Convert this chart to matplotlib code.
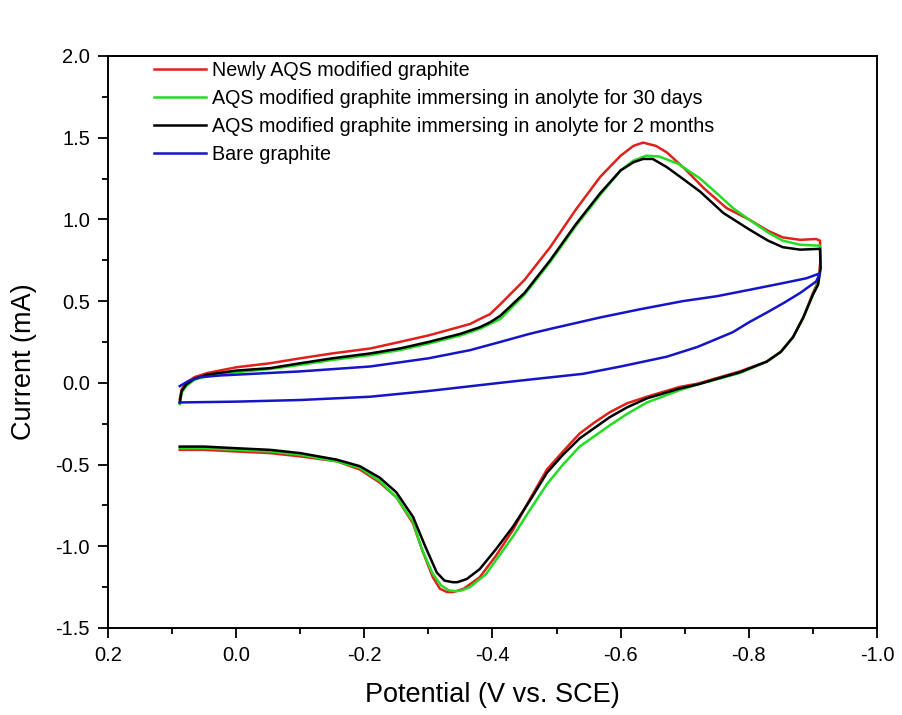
import matplotlib
matplotlib.use("Agg")
import matplotlib.pyplot as plt
from matplotlib.ticker import MultipleLocator

plt.rcParams['font.family'] = ['Liberation Sans', 'DejaVu Sans']

# ---- data (potential V vs SCE, current mA) ----
red_E = [0.088, 0.085, 0.078, 0.065, 0.045, 0.0, -0.053, -0.1, -0.15, -0.209, -0.255, -0.3,
         -0.365, -0.38, -0.396, -0.412, -0.45, -0.49, -0.53, -0.568, -0.60, -0.62, -0.635,
         -0.655, -0.672, -0.70, -0.73, -0.765, -0.80, -0.83, -0.853, -0.88, -0.905, -0.911,
         -0.912, -0.908, -0.900, -0.885, -0.869, -0.85, -0.828, -0.786, -0.72, -0.692,
         -0.641, -0.61, -0.583, -0.56, -0.536, -0.51, -0.485, -0.46, -0.432, -0.405, -0.38, -0.355,
         -0.339, -0.329, -0.318, -0.307, -0.29, -0.276, -0.25, -0.224, -0.193, -0.157, -0.1,
         -0.053, 0.0, 0.05, 0.088]
red_I = [-0.10, -0.04, 0.0, 0.035, 0.06, 0.095, 0.12, 0.15, 0.18, 0.21, 0.25, 0.29,
         0.36, 0.39, 0.42, 0.48, 0.63, 0.83, 1.06, 1.26, 1.39, 1.45, 1.47,
         1.45, 1.41, 1.31, 1.19, 1.07, 1.0, 0.93, 0.89, 0.875, 0.88, 0.87,
         0.75, 0.62, 0.55, 0.40, 0.28, 0.19, 0.13, 0.07, -0.005, -0.025,
         -0.085, -0.125, -0.18, -0.24, -0.31, -0.42, -0.53, -0.70, -0.90, -1.06, -1.19, -1.26,
         -1.28, -1.28, -1.26, -1.19, -1.02, -0.86, -0.70, -0.61, -0.53, -0.48, -0.45,
         -0.43, -0.42, -0.41, -0.41]

green_E = [0.088, 0.085, 0.078, 0.065, 0.045, 0.0, -0.053, -0.1, -0.15, -0.209, -0.255, -0.3,
           -0.35, -0.38, -0.412, -0.45, -0.49, -0.53, -0.568, -0.60, -0.62, -0.64,
           -0.66, -0.69, -0.724, -0.75, -0.775, -0.80, -0.83, -0.853, -0.88, -0.905, -0.911,
           -0.912, -0.908, -0.900, -0.885, -0.869, -0.85, -0.828, -0.786, -0.72, -0.692,
           -0.641, -0.61, -0.583, -0.536, -0.51, -0.485, -0.458, -0.432, -0.41, -0.39,
           -0.365, -0.352, -0.344, -0.332, -0.32, -0.307, -0.29, -0.276, -0.25, -0.224, -0.193,
           -0.157, -0.1, -0.053, 0.0, 0.05, 0.088]
green_I = [-0.13, -0.06, -0.02, 0.02, 0.04, 0.065, 0.085, 0.11, 0.14, 0.17, 0.20, 0.24,
           0.29, 0.33, 0.39, 0.54, 0.74, 0.96, 1.15, 1.30, 1.36, 1.39,
           1.385, 1.34, 1.25, 1.16, 1.07, 1.0, 0.92, 0.87, 0.845, 0.84, 0.84,
           0.72, 0.61, 0.54, 0.40, 0.28, 0.19, 0.13, 0.06, -0.01, -0.045,
           -0.12, -0.19, -0.26, -0.39, -0.50, -0.62, -0.78, -0.94, -1.06, -1.17,
           -1.25, -1.27, -1.275, -1.27, -1.24, -1.17, -1.02, -0.85, -0.70, -0.60, -0.52,
           -0.48, -0.44, -0.42, -0.41, -0.40, -0.40]

black_E = [0.088, 0.085, 0.078, 0.065, 0.045, 0.0, -0.053, -0.1, -0.15, -0.209, -0.255, -0.3,
           -0.35, -0.38, -0.396, -0.412, -0.45, -0.49, -0.53, -0.568, -0.60, -0.62, -0.635,
           -0.65, -0.672, -0.70, -0.724, -0.76, -0.80, -0.83, -0.853, -0.88, -0.911,
           -0.912, -0.908, -0.900, -0.885, -0.869, -0.85, -0.828, -0.786, -0.72, -0.692,
           -0.641, -0.61, -0.583, -0.536, -0.51, -0.485, -0.46, -0.432, -0.405, -0.38, -0.36,
           -0.345, -0.338, -0.325, -0.313, -0.295, -0.276, -0.25, -0.224, -0.193, -0.157, -0.1,
           -0.053, 0.0, 0.05, 0.088]
black_I = [-0.12, -0.05, -0.01, 0.025, 0.05, 0.075, 0.09, 0.12, 0.15, 0.18, 0.21, 0.25,
           0.30, 0.34, 0.37, 0.41, 0.55, 0.75, 0.97, 1.16, 1.30, 1.35, 1.37,
           1.37, 1.32, 1.24, 1.17, 1.04, 0.94, 0.87, 0.83, 0.815, 0.82,
           0.70, 0.60, 0.54, 0.40, 0.28, 0.19, 0.13, 0.065, -0.01, -0.035,
           -0.095, -0.15, -0.21, -0.34, -0.44, -0.55, -0.71, -0.88, -1.02, -1.14, -1.20,
           -1.22, -1.22, -1.21, -1.16, -1.0, -0.82, -0.67, -0.58, -0.51, -0.47, -0.43,
           -0.41, -0.40, -0.39, -0.39]

blue_E = [0.088, 0.075, 0.056, 0.025, 0.0, -0.1, -0.209, -0.3, -0.365, -0.412, -0.458, -0.49,
          -0.568, -0.63, -0.697, -0.75, -0.802, -0.853, -0.89, -0.911,
          -0.905, -0.88, -0.855, -0.828, -0.80, -0.775, -0.72, -0.672, -0.6, -0.541, -0.458,
          -0.412, -0.3, -0.209, -0.1, 0.0, 0.088]
blue_I = [-0.02, 0.01, 0.035, 0.045, 0.05, 0.07, 0.10, 0.15, 0.20, 0.25, 0.30, 0.33,
          0.40, 0.45, 0.50, 0.53, 0.57, 0.61, 0.64, 0.67,
          0.62, 0.55, 0.49, 0.43, 0.37, 0.31, 0.22, 0.16, 0.10, 0.055, 0.02,
          0.0, -0.05, -0.085, -0.105, -0.115, -0.12]

labels = ["Newly AQS modified graphite",
          "AQS modified graphite immersing in anolyte for 30 days",
          "AQS modified graphite immersing in anolyte for 2 months",
          "Bare graphite"]
colors = ["#e0201b", "#22dd22", "#000000", "#1515c8"]

x_ticks = [0.2, 0.0, -0.2, -0.4, -0.6, -0.8, -1.0]
y_ticks = [-1.5, -1.0, -0.5, 0.0, 0.5, 1.0, 1.5, 2.0]

fig = plt.figure(figsize=(9.02, 7.15), dpi=100)
ax = fig.add_axes([0.1197, 0.1217, 0.8526, 0.80])

series = [(red_E, red_I), (green_E, green_I), (black_E, black_I), (blue_E, blue_I)]
for (E, I), c, lab in zip(series, colors, labels):
    ax.plot(E, I, color=c, lw=1.8, label=lab, solid_joinstyle='round')

ax.set_xlim(0.2, -1.0)
ax.set_ylim(-1.5, 2.0)
ax.set_xticks(x_ticks)
ax.set_xticklabels([f"{v:.1f}" for v in x_ticks])
ax.set_yticks(y_ticks)
ax.set_yticklabels([f"{v:.1f}" for v in y_ticks])
ax.xaxis.set_minor_locator(MultipleLocator(0.1))
ax.yaxis.set_minor_locator(MultipleLocator(0.25))
ax.tick_params(which='major', direction='out', length=7, width=1.3, labelsize=14.5,
               top=False, right=False, pad=6)
ax.tick_params(which='minor', direction='out', length=4, width=1.3, top=False, right=False)
for sp in ax.spines.values():
    sp.set_linewidth(1.4)

ax.set_xlabel("Potential (V vs. SCE)", fontsize=19.5, labelpad=12)
ax.set_ylabel("Current (mA)", fontsize=19.5)
ax.yaxis.set_label_coords(-0.092, 0.465)

leg = ax.legend(loc='upper left', bbox_to_anchor=(0.045, 1.012), frameon=False,
                fontsize=14.2, handlelength=2.6, handletextpad=0.3, labelspacing=0.45,
                borderaxespad=0.2)

fig.savefig("out.png", dpi=100)
